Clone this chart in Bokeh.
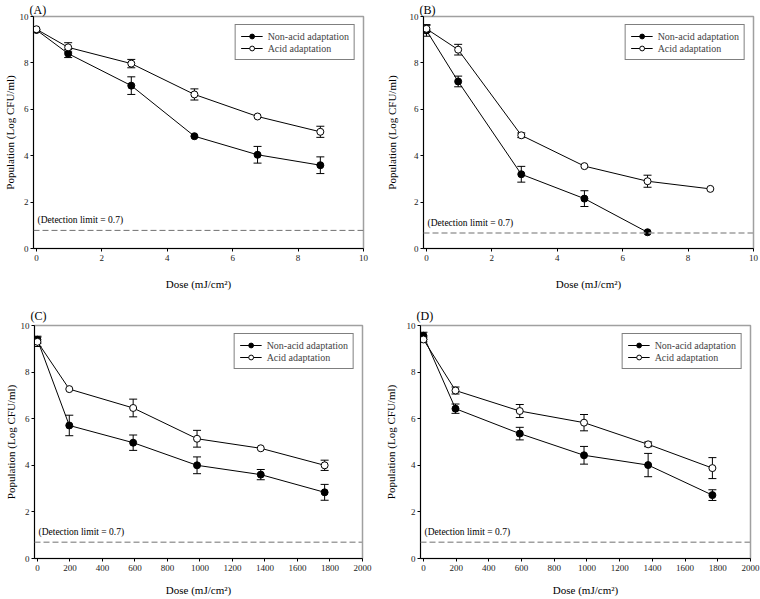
from bokeh.plotting import figure
from bokeh.models import (ColumnDataSource, Whisker, TeeHead, Span, Label,
                          Legend, LegendItem, FixedTicker)
from bokeh.layouts import column, row
from bokeh.embed import file_html
from bokeh.resources import INLINE

FONT = "Liberation Serif"

# ---------------- data ----------------
dose_uv = [0, 0.97, 2.9, 4.83, 6.76, 8.68]          # mJ/cm2 (panels A, B)
dose_c = [0, 196, 589, 982, 1374, 1767]             # mJ/cm2 (panels C, D)

a_non = [9.42, 8.40, 7.02, 4.84, 4.04, 3.59]
a_non_err = [0.0, 0.17, 0.38, 0.0, 0.36, 0.36]
a_acid = [9.45, 8.67, 7.97, 6.64, 5.69, 5.03]
a_acid_err = [0.0, 0.20, 0.18, 0.24, 0.0, 0.24]

b_non = [9.40, 7.20, 3.20, 2.15, 0.70]
b_non_err = [0.25, 0.23, 0.34, 0.34, 0.0]
b_acid = [9.47, 8.57, 4.88, 3.55, 2.90, 2.57]
b_acid_err = [0.15, 0.23, 0.10, 0.0, 0.26, 0.0]

c_non = [9.39, 5.71, 4.97, 4.00, 3.60, 2.84]
c_non_err = [0.15, 0.44, 0.33, 0.36, 0.22, 0.34]
c_acid = [9.30, 7.27, 6.46, 5.14, 4.73, 4.00]
c_acid_err = [0.20, 0.0, 0.38, 0.36, 0.0, 0.22]

d_non = [9.56, 6.43, 5.36, 4.43, 4.01, 2.72]
d_non_err = [0.15, 0.20, 0.27, 0.38, 0.50, 0.23]
d_acid = [9.40, 7.21, 6.33, 5.83, 4.90, 3.88]
d_acid_err = [0.10, 0.15, 0.28, 0.35, 0.10, 0.45]

detect_line = [0.78, 0.67, 0.70, 0.70]
detect_text = "(Detection limit = 0.7)"
panel_tags = ["(A)", "(B)", "(C)", "(D)"]
series_names = ["Non-acid adaptation", "Acid adaptation"]
x_ticks_uv = [0, 2, 4, 6, 8, 10]
x_ticks_c = [0, 200, 400, 600, 800, 1000, 1200, 1400, 1600, 1800, 2000]
y_ticks = [0, 2, 4, 6, 8, 10]
x_label = "Dose (mJ/cm²)"
y_label = "Population (Log CFU/ml)"


def make_panel(tag, xs_non, non, non_err, xs_acid, acid, acid_err, x_end, x_ticks,
               det, det_color, det_width, width, height, bl, br, bt, bb,
               ylab_standoff, xlab_standoff, tag_standoff):
    x_start = -0.009 * x_end
    p = figure(width=width, height=height, x_range=(x_start, x_end), y_range=(0, 10),
               output_backend="svg", toolbar_location=None,
               min_border_left=bl, min_border_right=br, min_border_top=bt,
               min_border_bottom=bb, title=tag)
    p.title.text_font = FONT
    p.title.text_font_size = "12px"
    p.title.text_font_style = "normal"
    p.title.text_color = "black"
    p.title.align = "left"
    p.title.offset = -4
    p.title.standoff = tag_standoff
    p.title.text_line_height = 1.0

    p.grid.visible = False
    p.outline_line_color = "#a0a0a0"
    p.outline_line_width = 1.5
    p.background_fill_color = "white"
    p.border_fill_color = "white"

    for ax in (p.xaxis[0], p.yaxis[0]):
        ax.axis_line_color = "black"
        ax.major_tick_line_color = "black"
        ax.major_tick_in = 0
        ax.major_tick_out = 3
        ax.minor_tick_line_color = None
        ax.major_label_text_font = FONT
        ax.major_label_text_font_size = "9px"
        ax.major_label_text_color = "#222222"
        ax.axis_label_text_font = FONT
        ax.axis_label_text_font_size = "11px"
        ax.axis_label_text_font_style = "normal"
        ax.axis_label_text_color = "black"
        ax.major_label_standoff = 3
    p.yaxis.major_label_standoff = 2
    p.xaxis.ticker = FixedTicker(ticks=x_ticks)
    p.yaxis.ticker = FixedTicker(ticks=y_ticks)
    p.xaxis.axis_label = x_label
    p.yaxis.axis_label = y_label
    p.yaxis.axis_label_standoff = ylab_standoff
    p.xaxis.axis_label_standoff = xlab_standoff

    # detection limit
    p.add_layout(Span(location=det, dimension="width", line_color=det_color,
                      line_width=det_width, line_dash="6 3"))
    p.add_layout(Label(x=x_start, y=det, x_offset=4, y_offset=5, text=detect_text,
                       text_font=FONT, text_font_size="9.5px", text_color="black"))

    items = []
    for xs, ys, errs, fill in ((xs_non, non, non_err, "black"),
                               (xs_acid, acid, acid_err, "white")):
        src = ColumnDataSource(dict(x=xs, y=ys))
        wx = [x for x, e in zip(xs, errs) if e > 0]
        wl = [y - e for y, e in zip(ys, errs) if e > 0]
        wu = [y + e for y, e in zip(ys, errs) if e > 0]
        wsrc = ColumnDataSource(dict(x=wx, lower=wl, upper=wu))
        w = Whisker(base="x", lower="lower", upper="upper", source=wsrc,
                    line_color="black", line_width=1, level="underlay",
                    upper_head=TeeHead(size=8, line_color="black", line_width=1),
                    lower_head=TeeHead(size=8, line_color="black", line_width=1))
        p.add_layout(w)
        ln = p.line("x", "y", source=src, line_color="black", line_width=1)
        mk = p.scatter("x", "y", source=src, size=7, marker="circle",
                       fill_color=fill, line_color="black", line_width=1)
        items.append((ln, mk))

    legend = Legend(items=[LegendItem(label=series_names[0], renderers=list(items[0])),
                           LegendItem(label=series_names[1], renderers=list(items[1]))],
                    location="top_right", margin=8, padding=5, spacing=0,
                    glyph_width=22, glyph_height=12, label_height=12,
                    label_standoff=5, label_text_font=FONT,
                    label_text_font_size="10px", border_line_color="black",
                    border_line_width=1, background_fill_color="white",
                    background_fill_alpha=1.0)
    p.add_layout(legend, "center")
    return p


pa = make_panel(panel_tags[0], dose_uv, a_non, a_non_err, dose_uv, a_acid, a_acid_err,
                10, x_ticks_uv, detect_line[0], "#707070", 1, 380, 300, 32, 17, 16, 51,
                1, 14, 0)
pb = make_panel(panel_tags[1], dose_uv[:5], b_non, b_non_err, dose_uv, b_acid, b_acid_err,
                10, x_ticks_uv, detect_line[1], "#a0a0a0", 1.5, 380, 300, 43, 7, 15, 52,
                9, 14, 0)
pc = make_panel(panel_tags[2], dose_c, c_non, c_non_err, dose_c, c_acid, c_acid_err,
                2000, x_ticks_c, detect_line[2], "#a0a0a0", 1.5, 380, 299, 34, 18, 24, 41,
                1, 10, 6)
pd = make_panel(panel_tags[3], dose_c, d_non, d_non_err, dose_c, d_acid, d_acid_err,
                2000, x_ticks_c, detect_line[3], "#a0a0a0", 1.5, 380, 299, 40, 10, 25, 41,
                7, 10, 6)

layout = column(row(pa, pb), row(pc, pd))
open("out.html", "w").write(file_html(layout, INLINE))
